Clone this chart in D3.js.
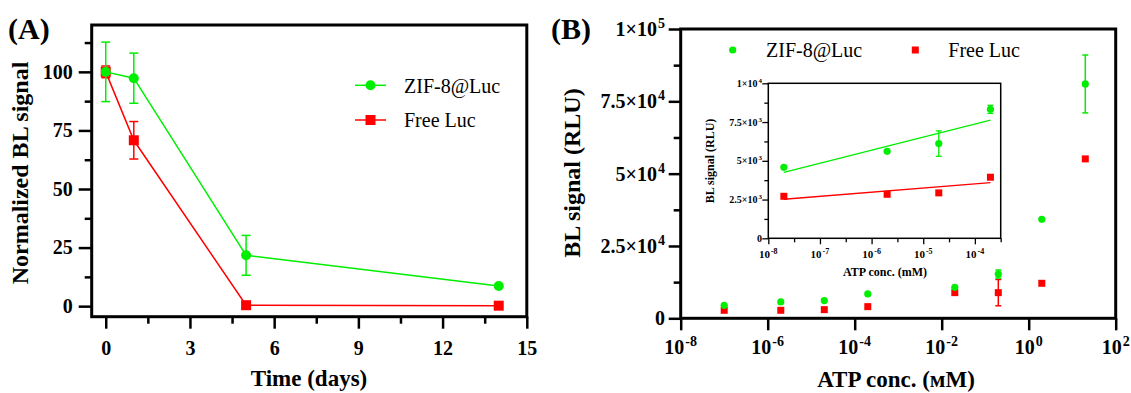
<!DOCTYPE html>
<html>
<head>
<meta charset="utf-8">
<script src="https://cdn.jsdelivr.net/npm/d3@7/dist/d3.min.js"></script>
<style>
  body { margin: 0; background: #fff; }
  text { font-family: "Liberation Serif", "Times New Roman", serif; fill: #000; }
</style>
</head>
<body>
<div id="chart-container"></div>
<script>
// ---- panel A : stability over time ----
var days = [0, 1, 5, 14];
var zifA = [100, 97.3, 21.7, 8.6];
var zifAErr = [12.7, 10.7, 8.5, 0];
var freeA = [100, 70.8, 0.4, 0.2];
var freeAErr = [2.5, 8, 0, 0];
var timeTicks = [0, 3, 6, 9, 12, 15];
var timeMinor = [1.5, 4.5, 7.5, 10.5, 13.5];
var normTicks = [0, 25, 50, 75, 100];
var normMinor = [12.5, 37.5, 62.5, 87.5, 112.5];

// ---- panel B : ATP response ----
var atpConc = [1e-7, 2e-6, 2e-5, 2e-4, 2e-2, 2e-1, 2, 20];
var zifB = [4490, 5650, 6110, 8410, 10700, 15300, 34200, 81000];
var zifBErr = [0, 0, 0, 0, 0, 1400, 0, 10000];
var freeB = [2770, 2770, 2990, 4030, 8870, 8870, 12100, 55100];
var freeBErr = [0, 0, 0, 0, 0, 4550, 0, 0];
var atpTicks = [1e-8, 1e-6, 1e-4, 1e-2, 1, 1e2];
var atpTickExp = ["-8", "-6", "-4", "-2", "0", "2"];
var signalTicks = [0, 25000, 50000, 75000, 100000];
var signalTickBase = ["0", "2.5×10", "5×10", "7.5×10", "1×10"];
var signalTickExp = ["", "4", "4", "4", "5"];
var signalMinor = [12500, 37500, 62500, 87500];

// ---- inset ----
var insetConc = [2e-8, 2e-6, 2e-5, 2e-4];
var zifIn = [4580, 5610, 6110, 8320];
var zifInErr = [0, 0, 820, 260];
var freeIn = [2710, 2840, 2930, 3940];
var freeInErr = [0, 0, 0, 0];
var fitConc = [2e-8, 2e-4];
var zifFit = [4260, 7630];
var freeFit = [2520, 3590];
var insetTicks = [1e-8, 1e-7, 1e-6, 1e-5, 1e-4];
var insetTickExp = ["-8", "-7", "-6", "-5", "-4"];
var insetMinor = [3.16e-8, 3.16e-7, 3.16e-6, 3.16e-5, 3.16e-4];
var insetYTicks = [0, 2500, 5000, 7500, 10000];
var insetYBase = ["0", "2.5×10", "5×10", "7.5×10", "1×10"];
var insetYExp = ["", "3", "3", "3", "4"];
var insetYMinor = [1250, 3750, 6250, 8750];

var green = "#00ee00", red = "#ff0000";
var serif = '"Liberation Serif", "Times New Roman", serif';

var svg = d3.select("#chart-container").append("svg")
  .attr("width", 1131).attr("height", 393);

function zip(xs, ys, es) {
  return xs.map(function (x, i) { return {x: x, y: ys[i], e: es ? es[i] : 0}; });
}

function styleAxis(g, w) {
  g.select(".domain").remove();
  g.selectAll(".tick line").attr("stroke", "#000").attr("stroke-width", w);
  g.selectAll(".tick text").style("font-size", "20px").style("font-weight", "bold").attr("fill", "#000");
}

function supLabel(g, x, y, base, sup, size, supSize, rise, anchor) {
  var t = g.append("text").attr("x", x).attr("y", y).attr("text-anchor", anchor)
    .style("font-size", size + "px").style("font-weight", "bold");
  t.append("tspan").text(base);
  if (sup) t.append("tspan").attr("dy", -rise).attr("dx", 1).style("font-size", supSize + "px").text(sup);
  return t;
}

function errorBars(g, data, x, y, color, cap, w) {
  var eb = g.append("g").selectAll("g").data(data.filter(function (d) { return d.e > 0; }))
    .enter().append("g").attr("stroke", color).attr("stroke-width", w);
  eb.append("line")
    .attr("x1", function (d) { return x(d.x); }).attr("x2", function (d) { return x(d.x); })
    .attr("y1", function (d) { return y(d.y - d.e); }).attr("y2", function (d) { return y(d.y + d.e); });
  eb.append("line")
    .attr("x1", function (d) { return x(d.x) - cap; }).attr("x2", function (d) { return x(d.x) + cap; })
    .attr("y1", function (d) { return y(d.y + d.e); }).attr("y2", function (d) { return y(d.y + d.e); });
  eb.append("line")
    .attr("x1", function (d) { return x(d.x) - cap; }).attr("x2", function (d) { return x(d.x) + cap; })
    .attr("y1", function (d) { return y(d.y - d.e); }).attr("y2", function (d) { return y(d.y - d.e); });
}

function circles(g, data, x, y, r) {
  g.append("g").selectAll("circle").data(data).enter().append("circle")
    .attr("cx", function (d) { return x(d.x); })
    .attr("cy", function (d) { return y(d.y); })
    .attr("r", r).attr("fill", green);
}

function squares(g, data, x, y, s) {
  g.append("g").selectAll("rect").data(data).enter().append("rect")
    .attr("x", function (d) { return x(d.x) - s / 2; })
    .attr("y", function (d) { return y(d.y) - s / 2; })
    .attr("width", s).attr("height", s).attr("fill", red);
}

// ================= panel A =================
var xA = d3.scaleLinear().domain([-0.5, 15]).range([91.7, 526.8]);
var yA = d3.scaleLinear().domain([-4.5, 120]).range([316.7, 25]);
var gA = svg.append("g");

gA.append("g").attr("transform", "translate(91.7,0)")
  .call(d3.axisLeft(yA).tickValues(normTicks).tickSize(13).tickPadding(6))
  .call(function (g) { styleAxis(g, 2.5); });
gA.append("g").attr("transform", "translate(91.7,0)")
  .call(d3.axisLeft(yA).tickValues(normMinor).tickSize(7).tickFormat(""))
  .call(function (g) { styleAxis(g, 2.5); });
gA.append("g").attr("transform", "translate(0,316.7)")
  .call(d3.axisBottom(xA).tickValues(timeTicks).tickSize(12).tickPadding(12))
  .call(function (g) { styleAxis(g, 2.5); });
gA.append("g").attr("transform", "translate(0,316.7)")
  .call(d3.axisBottom(xA).tickValues(timeMinor).tickSize(7).tickFormat(""))
  .call(function (g) { styleAxis(g, 2.5); });

gA.append("rect").attr("x", 91.7).attr("y", 25).attr("width", 526.8 - 91.7).attr("height", 316.7 - 25)
  .attr("fill", "none").attr("stroke", "#000").attr("stroke-width", 3);

var lineA = d3.line().x(function (d) { return xA(d.x); }).y(function (d) { return yA(d.y); });
var freeAData = zip(days, freeA, freeAErr), zifAData = zip(days, zifA, zifAErr);
gA.append("path").datum(freeAData).attr("d", lineA).attr("fill", "none").attr("stroke", red).attr("stroke-width", 1.5);
errorBars(gA, freeAData, xA, yA, red, 4.5, 1.5);
squares(gA, freeAData, xA, yA, 10);
gA.append("path").datum(zifAData).attr("d", lineA).attr("fill", "none").attr("stroke", green).attr("stroke-width", 1.5);
errorBars(gA, zifAData, xA, yA, green, 4.5, 1.5);
circles(gA, zifAData, xA, yA, 5);

// legend A
var legA = gA.append("g");
legA.append("line").attr("x1", 355).attr("x2", 386).attr("y1", 85.3).attr("y2", 85.3).attr("stroke", green).attr("stroke-width", 1.5);
legA.append("circle").attr("cx", 370.5).attr("cy", 85.3).attr("r", 5).attr("fill", green);
legA.append("text").attr("x", 404).attr("y", 92.5).style("font-size", "20px").text("ZIF-8@Luc");
legA.append("line").attr("x1", 355).attr("x2", 386).attr("y1", 120).attr("y2", 120).attr("stroke", red).attr("stroke-width", 1.5);
legA.append("rect").attr("x", 365.5).attr("y", 115).attr("width", 10).attr("height", 10).attr("fill", red);
legA.append("text").attr("x", 404).attr("y", 127.3).style("font-size", "20px").text("Free Luc");

gA.append("text").attr("x", 309).attr("y", 386).attr("text-anchor", "middle")
  .style("font-size", "23px").style("font-weight", "bold").text("Time (days)");
gA.append("text").attr("transform", "translate(28,173) rotate(-90)").attr("text-anchor", "middle")
  .style("font-size", "24px").style("font-weight", "bold").text("Normalized BL signal");
gA.append("text").attr("x", 8).attr("y", 39).style("font-size", "30px").style("font-weight", "bold").text("(A)");

// ================= panel B =================
var xB = d3.scaleLog().domain([1e-8, 1e2]).range([680.7, 1115.7]);
var yB = d3.scaleLinear().domain([0, 1e5]).range([318.3, 29]);
var gB = svg.append("g");

gB.append("g").attr("transform", "translate(680.7,0)")
  .call(d3.axisLeft(yB).tickValues(signalTicks).tickSize(12).tickFormat(""))
  .call(function (g) { styleAxis(g, 2.5); });
gB.append("g").attr("transform", "translate(680.7,0)")
  .call(d3.axisLeft(yB).tickValues(signalMinor).tickSize(7).tickFormat(""))
  .call(function (g) { styleAxis(g, 2.5); });
gB.append("g").attr("transform", "translate(0,318.3)")
  .call(d3.axisBottom(xB).tickValues(atpTicks).tickSize(12).tickFormat(""))
  .call(function (g) { styleAxis(g, 2.5); });

signalTicks.forEach(function (v, i) {
  supLabel(gB, 665, yB(v) + 7, signalTickBase[i], signalTickExp[i], 20, 14, 8, "end");
});
atpTicks.forEach(function (v, i) {
  supLabel(gB, xB(v), 354, "10", atpTickExp[i], 20, 14, 8, "middle");
});

gB.append("rect").attr("x", 680.7).attr("y", 29).attr("width", 1115.7 - 680.7).attr("height", 318.3 - 29)
  .attr("fill", "none").attr("stroke", "#000").attr("stroke-width", 3);

var freeBData = zip(atpConc, freeB, freeBErr), zifBData = zip(atpConc, zifB, zifBErr);
errorBars(gB, freeBData, xB, yB, red, 3, 1.5);
squares(gB, freeBData, xB, yB, 7);
errorBars(gB, zifBData, xB, yB, green, 3, 1.5);
circles(gB, zifBData, xB, yB, 3.6);

// legend B
var legB = gB.append("g");
legB.append("circle").attr("cx", 732.7).attr("cy", 50).attr("r", 3.6).attr("fill", green);
legB.append("text").attr("x", 766).attr("y", 57).style("font-size", "20px").text("ZIF-8@Luc");
legB.append("rect").attr("x", 911.8).attr("y", 46.5).attr("width", 7).attr("height", 7).attr("fill", red);
legB.append("text").attr("x", 948.3).attr("y", 57).style("font-size", "20px").text("Free Luc");

gB.append("text").attr("x", 896).attr("y", 387).attr("text-anchor", "middle")
  .style("font-size", "23px").style("font-weight", "bold").text("ATP conc.  (мM)");
gB.append("text").attr("transform", "translate(580,173) rotate(-90)").attr("text-anchor", "middle")
  .style("font-size", "24px").style("font-weight", "bold").text("BL signal (RLU)");
gB.append("text").attr("x", 551).attr("y", 39).style("font-size", "30px").style("font-weight", "bold").text("(B)");

// ================= inset =================
var xI = d3.scaleLog().domain([1e-8, 3.162e-4]).range([768.3, 1000.7]);
var yI = d3.scaleLinear().domain([0, 1e4]).range([238.3, 83.3]);
var gI = svg.append("g");

gI.append("rect").attr("x", 768.3).attr("y", 83.3).attr("width", 1000.7 - 768.3).attr("height", 238.3 - 83.3)
  .attr("fill", "#fff").attr("stroke", "#000").attr("stroke-width", 1.5);
gI.append("g").attr("transform", "translate(768.3,0)")
  .call(d3.axisLeft(yI).tickValues(insetYTicks).tickSize(6).tickFormat(""))
  .call(function (g) { styleAxis(g, 1.3); });
gI.append("g").attr("transform", "translate(768.3,0)")
  .call(d3.axisLeft(yI).tickValues(insetYMinor).tickSize(4).tickFormat(""))
  .call(function (g) { styleAxis(g, 1.3); });
gI.append("g").attr("transform", "translate(0,238.3)")
  .call(d3.axisBottom(xI).tickValues(insetTicks).tickSize(6).tickFormat(""))
  .call(function (g) { styleAxis(g, 1.3); });
gI.append("g").attr("transform", "translate(0,238.3)")
  .call(d3.axisBottom(xI).tickValues(insetMinor).tickSize(4).tickFormat(""))
  .call(function (g) { styleAxis(g, 1.3); });

insetYTicks.forEach(function (v, i) {
  supLabel(gI, 762, yI(v) + 3.5, insetYBase[i], insetYExp[i], 10, 7, 4, "end");
});
insetTicks.forEach(function (v, i) {
  supLabel(gI, xI(v), 258, "10", insetTickExp[i], 11, 8, 4, "middle");
});

var lineI = d3.line().x(function (d) { return xI(d.x); }).y(function (d) { return yI(d.y); });
gI.append("path").datum(zip(fitConc, freeFit)).attr("d", lineI).attr("fill", "none").attr("stroke", red).attr("stroke-width", 1.3);
gI.append("path").datum(zip(fitConc, zifFit)).attr("d", lineI).attr("fill", "none").attr("stroke", green).attr("stroke-width", 1.3);

var freeInData = zip(insetConc, freeIn, freeInErr), zifInData = zip(insetConc, zifIn, zifInErr);
squares(gI, freeInData, xI, yI, 7);
errorBars(gI, zifInData, xI, yI, green, 3, 1.3);
circles(gI, zifInData, xI, yI, 3.6);

gI.append("text").attr("x", 885).attr("y", 276).attr("text-anchor", "middle")
  .style("font-size", "12px").style("font-weight", "bold").text("ATP conc. (mM)");
gI.append("text").attr("transform", "translate(714,161) rotate(-90)").attr("text-anchor", "middle")
  .style("font-size", "12px").style("font-weight", "bold").text("BL signal (RLU)");

// every label in the serif face
svg.selectAll("text").style("font-family", serif);
</script>
</body>
</html>
